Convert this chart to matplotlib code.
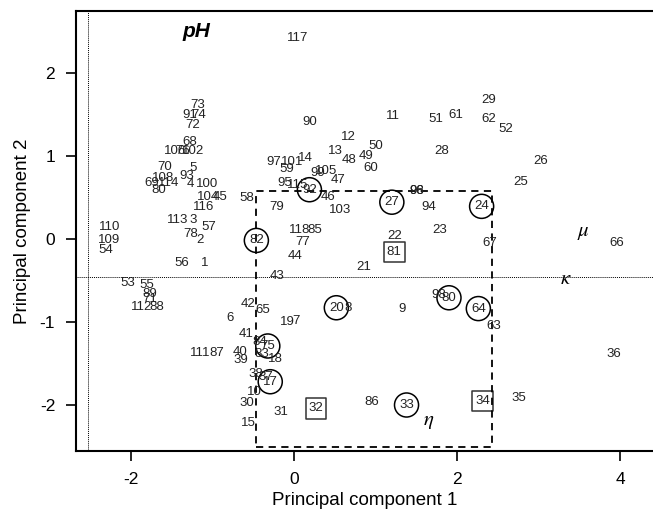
import matplotlib
matplotlib.use("Agg")
import matplotlib.pyplot as plt

plt.rcParams['font.family'] = ['Liberation Sans', 'DejaVu Sans']
plt.rcParams['axes.unicode_minus'] = False
plt.rcParams['mathtext.fontset'] = 'stix'

# sample labels and their scores on the two principal components
labels = ['117', '73', '91', '74', '72', '68', '106', '76', '102', '70', '5', '108',
          '93', '69', '114', '80', '4', '100', '104', '45', '116', '113', '3', '57',
          '78', '2', '58', '56', '1', '110', '109', '54', '53', '55', '89', '71',
          '112', '88', '90', '11', '51', '61', '29', '62', '52', '12', '50', '13',
          '48', '49', '60', '28', '26', '25', '97', '101', '14', '59', '99', '105',
          '47', '95', '115', '92', '46', '79', '103', '27', '96', '98', '94', '23',
          '118', '85', '77', '44', '22', '81', '21', '43', '9', '20', '8', '65',
          '42', '19', '7', '6', '24', '67', '66', '98', '80', '64', '63', '36',
          '34', '35', '75', '18', '17', '31', '32', '86', '33', '41', '84', '111',
          '87', '40', '39', '83', '38', '37', '10', '30', '15', '82']
pc1 = [0.05, -1.18, -1.28, -1.17, -1.24, -1.28, -1.46, -1.36, -1.24, -1.58, -1.24, -1.60,
       -1.31, -1.74, -1.54, -1.66, -1.27, -1.07, -1.05, -0.91, -1.11, -1.43, -1.24, -1.04,
       -1.26, -1.15, -0.58, -1.37, -1.09, -2.26, -2.26, -2.30, -2.03, -1.80, -1.77, -1.77,
       -1.87, -1.68, 0.19, 1.21, 1.74, 1.98, 2.39, 2.39, 2.59, 0.67, 1.00, 0.51,
       0.68, 0.88, 0.94, 1.81, 3.02, 2.78, -0.25, -0.02, 0.14, -0.09, 0.29, 0.40,
       0.54, -0.11, 0.05, 0.19, 0.42, -0.21, 0.56, 1.20, 1.50, 1.50, 1.65, 1.79,
       0.07, 0.25, 0.11, 0.02, 1.23, 1.23, 0.86, -0.21, 1.33, 0.52, 0.66, -0.38,
       -0.56, -0.08, 0.03, -0.78, 2.30, 2.40, 3.96, 1.77, 1.90, 2.26, 2.45, 3.92,
       2.31, 2.76, -0.32, -0.23, -0.29, -0.16, 0.27, 0.95, 1.38, -0.58, -0.42, -1.15,
       -0.95, -0.66, -0.65, -0.40, -0.47, -0.35, -0.48, -0.58, -0.56, -0.46]
pc2 = [2.41, 1.61, 1.49, 1.49, 1.37, 1.17, 1.05, 1.05, 1.05, 0.86, 0.85, 0.73,
       0.75, 0.67, 0.67, 0.59, 0.66, 0.66, 0.50, 0.50, 0.38, 0.23, 0.23, 0.14,
       0.06, -0.02, 0.49, -0.29, -0.29, 0.14, -0.02, -0.14, -0.53, -0.56, -0.66, -0.73,
       -0.82, -0.82, 1.40, 1.48, 1.44, 1.49, 1.67, 1.44, 1.32, 1.23, 1.12, 1.06,
       0.95, 0.99, 0.85, 1.05, 0.94, 0.68, 0.92, 0.92, 0.97, 0.84, 0.79, 0.82,
       0.71, 0.67, 0.65, 0.59, 0.50, 0.38, 0.35, 0.44, 0.57, 0.57, 0.38, 0.10,
       0.10, 0.10, -0.04, -0.21, 0.03, -0.16, -0.34, -0.45, -0.85, -0.83, -0.83, -0.86,
       -0.79, -1.00, -0.99, -0.95, 0.39, -0.05, -0.05, -0.68, -0.71, -0.84, -1.05, -1.39,
       -1.95, -1.92, -1.29, -1.45, -1.72, -2.08, -2.04, -1.96, -2.00, -1.15, -1.24, -1.38,
       -1.38, -1.36, -1.46, -1.39, -1.63, -1.66, -1.84, -1.98, -2.22, -0.02]

# highlighted samples (last occurrence of the label is the one marked)
circled = ['82', '92', '27', '24', '20', '80', '64', '75', '17', '33']
boxed = ['81', '32', '34']

# property labels
props = ['pH', r'$\mu$', r'$\kappa$', r'$\eta$']
prop_x = [-1.19, 3.55, 3.33, 1.65]
prop_y = [2.49, 0.07, -0.48, -2.20]

# selection box and reference lines
box_x = [-0.46, 2.43]
box_y = [-2.51, 0.58]
ref_x = -2.52
ref_y = -0.46


def last_index(lab):
    return len(labels) - 1 - labels[::-1].index(lab)


fig = plt.figure(figsize=(6.53, 5.17), dpi=100)
ax = fig.add_axes([0.1164, 0.1282, 0.8836, 0.8505])
ax.set_xlim(-2.67, 4.40)
ax.set_ylim(-2.55, 2.74)

for lab, x, y in zip(labels, pc1, pc2):
    ax.text(x, y, lab, ha='center', va='center', fontsize=9.5, color='#222222')

ci = [last_index(l) for l in circled]
bi = [last_index(l) for l in boxed]
ax.scatter([pc1[i] for i in ci], [pc2[i] for i in ci], s=300,
           facecolors='none', edgecolors='black', linewidths=1.1)
ax.scatter([pc1[i] for i in bi], [pc2[i] for i in bi], s=220, marker='s',
           facecolors='none', edgecolors='#333333', linewidths=1.1)

for p, x, y in zip(props, prop_x, prop_y):
    if p == 'pH':
        ax.text(x, y, p, ha='center', va='center', fontsize=15, fontweight='bold', fontstyle='italic')
    else:
        ax.text(x, y, p, ha='center', va='center', fontsize=15)

ax.plot([box_x[0], box_x[1], box_x[1], box_x[0], box_x[0]],
        [box_y[0], box_y[0], box_y[1], box_y[1], box_y[0]],
        ls=(0, (4, 3)), color='black', lw=1.3)
ax.axvline(ref_x, ls=(0, (1, 1)), color='black', lw=0.7)
ax.axhline(ref_y, ls=(0, (1, 1)), color='black', lw=0.7)

ax.set_xticks([-2, 0, 2, 4])
ax.set_yticks([-2, -1, 0, 1, 2])
ax.tick_params(direction='out', length=7, width=1.2, labelsize=12.5, pad=8)
for s in ['left', 'bottom', 'top']:
    ax.spines[s].set_linewidth(1.5)
ax.spines['right'].set_visible(False)

ax.set_xlabel('Principal component 1', fontsize=13.5, labelpad=4)
ax.set_ylabel('Principal component 2', fontsize=13.5, labelpad=6)

fig.savefig('out.png', dpi=100)
